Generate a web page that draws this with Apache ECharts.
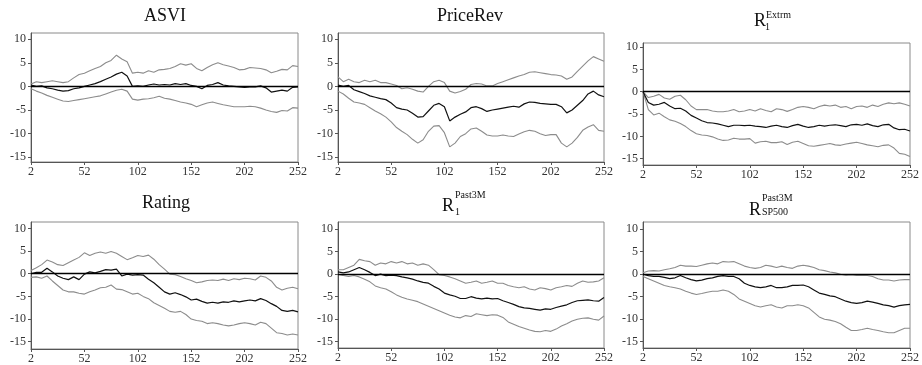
<!DOCTYPE html>
<html><head><meta charset="utf-8">
<script src="https://cdn.jsdelivr.net/npm/echarts@6/dist/echarts.min.js"></script>
<style>html,body{margin:0;padding:0;background:#fff}#c{width:922px;height:365px}</style>
</head><body><div id="c"></div>
<script>
const days = [2,7,12,17,22,27,32,37,42,47,52,57,62,67,72,77,82,87,92,97,102,107,112,117,122,127,132,137,142,147,152,157,162,167,172,177,182,187,192,197,202,207,212,217,222,227,232,237,242,247,252];
const xTicks = [2,52,102,152,202,252];
const yTicks = [-15,-10,-5,0,5,10];

const asviUpper = [0.5,1.0,0.8,1.0,1.2,1.0,0.8,1.0,1.8,2.5,2.8,3.3,3.8,4.2,5.0,5.5,6.6,5.8,5.2,2.8,3.0,2.8,3.3,3.0,3.5,3.6,3.8,4.2,4.8,4.5,4.8,3.8,3.3,4.0,4.6,5.0,4.6,4.3,4.0,3.5,3.6,4.0,3.9,3.8,3.5,2.9,3.2,3.6,3.5,4.4,4.2];
const asviMid = [0.3,0.0,0.1,-0.3,-0.5,-0.8,-1.0,-0.9,-0.5,-0.3,0.0,0.3,0.6,1.0,1.5,2.0,2.6,3.0,2.2,0.0,0.1,0.0,0.3,0.5,0.3,0.4,0.3,0.6,0.4,0.6,0.2,0.0,-0.5,0.2,0.4,0.8,0.3,0.1,0.0,-0.1,-0.2,-0.1,-0.1,0.1,-0.3,-1.2,-1.0,-0.8,-1.0,-0.2,-0.1];
const asviLower = [-0.5,-1.0,-1.4,-1.9,-2.3,-2.7,-3.1,-3.2,-3.0,-2.8,-2.6,-2.4,-2.2,-2.0,-1.6,-1.2,-0.8,-0.6,-1.0,-2.7,-2.9,-2.7,-2.6,-2.4,-2.1,-2.5,-2.7,-3.0,-3.3,-3.5,-3.8,-4.3,-3.9,-3.5,-3.3,-3.6,-3.9,-4.1,-4.3,-4.3,-4.3,-4.2,-4.3,-4.6,-5.0,-5.3,-5.5,-5.1,-5.2,-4.5,-4.6];

const priceRevUpper = [2.0,1.0,1.5,1.0,0.8,1.3,1.0,1.3,0.8,0.8,0.5,0.2,-0.5,-0.3,-0.6,-1.0,-1.2,0.0,1.0,1.3,0.8,-1.0,-1.4,-1.1,-0.6,0.4,0.6,0.5,0.1,0.1,0.6,1.0,1.4,1.8,2.2,2.5,3.0,3.1,2.9,2.7,2.5,2.4,2.2,1.5,2.0,3.2,4.3,5.4,6.3,5.8,5.3];
const priceRevMid = [0.3,0.0,0.2,-0.7,-1.1,-1.5,-2.0,-2.3,-2.6,-2.8,-3.5,-4.5,-4.8,-5.0,-5.7,-6.5,-6.4,-5.2,-4.0,-3.6,-4.3,-7.3,-6.5,-5.9,-5.4,-4.5,-4.3,-4.7,-5.3,-5.0,-4.8,-4.6,-4.4,-4.2,-4.4,-3.7,-3.3,-3.4,-3.6,-3.7,-3.8,-3.8,-4.3,-5.6,-5.0,-4.0,-3.0,-1.6,-1.0,-1.8,-2.2];
const priceRevLower = [-1.0,-1.6,-2.5,-3.3,-3.5,-3.8,-4.5,-5.2,-5.8,-6.5,-7.5,-8.7,-9.5,-10.2,-11.2,-12.0,-11.3,-9.5,-8.4,-8.3,-9.8,-12.8,-12.0,-10.6,-10.0,-9.0,-8.8,-9.5,-10.3,-10.5,-10.5,-10.3,-10.5,-10.6,-10.1,-9.6,-9.3,-9.5,-10.0,-10.4,-10.2,-10.2,-12.0,-12.8,-12.0,-10.8,-9.3,-8.6,-8.1,-9.3,-9.5];

const extrmUpper = [0.0,-1.3,-1.0,-0.6,-1.4,-1.7,-1.0,-0.8,-1.8,-3.2,-4.0,-4.0,-4.0,-4.3,-4.5,-4.5,-4.3,-4.0,-4.5,-4.3,-4.0,-4.3,-3.8,-4.2,-4.5,-3.8,-4.0,-4.4,-4.0,-3.5,-3.3,-3.5,-3.8,-3.3,-3.0,-3.2,-3.0,-3.5,-3.3,-3.8,-3.3,-3.2,-3.5,-3.0,-3.3,-2.8,-2.5,-2.7,-2.5,-2.8,-3.2];
const extrmMid = [0.0,-2.4,-3.0,-2.8,-2.4,-3.2,-3.8,-3.7,-4.3,-5.3,-5.9,-6.5,-6.9,-7.0,-7.2,-7.5,-7.8,-7.5,-7.5,-7.6,-7.5,-7.7,-7.8,-8.0,-7.7,-7.5,-7.8,-8.0,-7.6,-7.3,-7.7,-8.0,-7.8,-7.5,-7.7,-7.5,-7.4,-7.6,-7.8,-7.4,-7.3,-7.5,-7.2,-7.6,-7.8,-7.4,-7.3,-8.1,-8.5,-8.4,-8.8];
const extrmLower = [0.0,-4.0,-5.2,-4.8,-5.6,-6.3,-6.6,-7.1,-7.8,-8.7,-9.4,-9.7,-9.8,-10.1,-10.6,-10.9,-10.8,-10.4,-10.6,-10.6,-10.5,-11.5,-11.2,-11.1,-11.4,-11.4,-11.2,-11.8,-11.3,-11.1,-11.6,-12.1,-12.2,-12.0,-11.8,-11.6,-11.9,-12.0,-11.7,-11.5,-11.3,-11.6,-11.9,-12.1,-12.3,-12.0,-11.9,-12.6,-13.8,-14.0,-14.5];

const ratingUpper = [0.7,1.3,2.0,3.0,2.6,2.0,1.8,2.4,3.0,3.6,4.6,4.0,4.5,4.8,4.5,4.9,4.5,3.8,3.1,3.5,4.0,3.8,4.1,3.2,2.0,1.0,-0.1,-0.2,-0.6,-1.1,-1.5,-2.0,-1.8,-1.5,-1.4,-1.5,-1.2,-1.5,-1.1,-1.3,-1.0,-1.1,-1.4,-0.5,-0.8,-1.6,-3.0,-3.6,-3.2,-3.0,-3.3];
const ratingMid = [0.0,0.3,0.3,1.2,0.4,-0.5,-1.0,-1.3,-0.7,-1.3,-0.1,0.4,0.2,0.5,0.9,0.8,1.0,-0.5,-0.1,-0.3,-0.2,-0.3,-1.2,-2.0,-3.0,-4.0,-4.5,-4.2,-4.6,-5.1,-5.8,-5.6,-6.1,-6.5,-6.3,-6.5,-6.2,-6.3,-6.0,-6.2,-6.0,-5.8,-6.0,-5.5,-5.9,-6.6,-7.2,-8.1,-8.3,-8.1,-8.4];
const ratingLower = [-0.8,-0.7,-1.0,-0.5,-1.6,-2.6,-3.6,-4.0,-4.0,-4.3,-4.5,-4.0,-3.6,-3.1,-3.0,-2.5,-3.4,-3.5,-4.0,-4.5,-4.3,-5.0,-5.5,-6.4,-7.0,-7.6,-8.3,-8.5,-8.3,-9.0,-10.0,-10.3,-10.5,-11.0,-10.8,-11.0,-11.3,-11.5,-11.3,-11.0,-10.8,-11.0,-11.3,-10.7,-11.0,-12.0,-13.0,-13.2,-13.5,-13.3,-13.5];

const past3mUpper = [1.0,1.0,1.5,2.0,3.3,3.0,2.8,2.0,2.5,2.3,2.8,2.5,2.8,2.3,2.5,2.0,2.3,2.0,1.0,-0.1,-0.3,-0.6,-1.0,-1.5,-2.0,-1.8,-1.5,-2.0,-1.8,-1.5,-2.0,-2.0,-2.5,-2.8,-3.0,-2.8,-3.3,-3.5,-3.0,-3.2,-3.5,-3.0,-2.8,-2.5,-2.7,-2.0,-1.5,-1.8,-1.7,-1.5,-0.8];
const past3mMid = [0.5,0.3,0.5,1.0,1.5,1.0,0.4,-0.3,0.0,-0.3,-0.2,-0.3,-0.6,-0.8,-1.1,-1.5,-1.8,-2.0,-2.7,-3.3,-4.2,-4.6,-4.9,-5.4,-5.4,-5.0,-5.3,-5.5,-5.3,-5.5,-5.4,-5.9,-6.3,-6.7,-7.2,-7.5,-7.6,-7.8,-8.0,-7.7,-7.8,-7.4,-7.1,-6.8,-6.3,-5.9,-5.8,-5.7,-5.9,-6.0,-5.2];
const past3mLower = [0.0,-0.3,-0.5,-0.3,-0.6,-1.1,-1.7,-2.6,-3.0,-3.3,-3.9,-4.6,-5.1,-5.5,-5.8,-6.1,-6.6,-7.1,-7.6,-8.1,-8.6,-9.1,-9.5,-9.7,-9.2,-9.4,-8.8,-9.0,-9.2,-9.0,-9.1,-9.6,-10.6,-11.1,-11.6,-12.0,-12.4,-12.7,-12.8,-12.5,-12.7,-12.2,-11.5,-11.0,-10.4,-10.0,-9.8,-9.7,-10.0,-10.2,-9.3];

const sp500Upper = [0.3,0.7,0.8,0.7,1.0,1.2,1.5,2.0,1.8,1.8,1.7,2.0,2.3,2.5,2.3,2.8,2.7,2.8,2.3,1.8,1.5,1.3,1.5,2.0,1.8,1.5,1.8,1.5,1.3,1.8,2.0,1.8,1.5,1.0,0.8,0.5,0.3,0.0,-0.2,-0.1,-0.3,-0.2,-0.3,-0.5,-1.0,-1.3,-1.3,-1.5,-1.3,-1.2,-1.2];
const sp500Mid = [0.0,-0.3,-0.5,-0.5,-0.7,-1.0,-0.8,-0.3,-0.8,-1.2,-1.5,-1.3,-1.0,-0.8,-0.5,-0.3,-0.5,-0.5,-1.0,-2.0,-2.5,-2.8,-3.0,-2.8,-2.5,-3.0,-3.0,-2.8,-2.5,-2.5,-2.4,-2.8,-3.5,-4.2,-4.5,-4.8,-5.0,-5.5,-6.0,-6.3,-6.5,-6.3,-6.0,-6.2,-6.5,-6.8,-7.0,-7.3,-7.0,-6.8,-6.7];
const sp500Lower = [-0.5,-1.0,-1.5,-2.0,-2.5,-2.8,-3.0,-3.3,-3.8,-4.2,-4.5,-4.3,-4.0,-3.8,-3.8,-3.5,-3.8,-4.5,-5.5,-6.0,-6.5,-7.0,-7.3,-7.0,-6.8,-7.3,-7.5,-7.0,-7.0,-6.8,-7.0,-7.5,-8.5,-9.5,-10.0,-10.2,-10.5,-11.0,-11.8,-12.5,-12.5,-12.3,-12.0,-12.3,-12.5,-12.8,-13.0,-13.0,-12.5,-12.0,-12.0];

const panels = [
  {up: asviUpper, mid: asviMid, lo: asviLower, left: 31, top: 33, w: 267, h: 129, min: -16, max: 11.3},
  {up: priceRevUpper, mid: priceRevMid, lo: priceRevLower, left: 338, top: 33, w: 266, h: 129, min: -16, max: 11.3},
  {up: extrmUpper, mid: extrmMid, lo: extrmLower, left: 643, top: 43, w: 267, h: 122, min: -16.4, max: 10.9},
  {up: ratingUpper, mid: ratingMid, lo: ratingLower, left: 31, top: 222, w: 267, h: 128, min: -16.6, max: 11.4},
  {up: past3mUpper, mid: past3mMid, lo: past3mLower, left: 338, top: 222, w: 266, h: 126, min: -16.4, max: 11.6},
  {up: sp500Upper, mid: sp500Mid, lo: sp500Lower, left: 643, top: 222, w: 267, h: 126, min: -16.4, max: 11.6}
];

const FONT = '"Liberation Serif", "DejaVu Serif", serif';
const grids = [], xAxes = [], yAxes = [], series = [];
const pairs = arr => arr.map((v, i) => [days[i], v]);
panels.forEach((p, i) => {
  grids.push({left: p.left, top: p.top, width: p.w, height: p.h, show: true, borderColor: '#8a8a8a', borderWidth: 1, containLabel: false});
  xAxes.push({gridIndex: i, type: 'value', min: 2, max: 252,
    axisLine: {show: true, onZero: false, lineStyle: {color: '#555', width: 1}},
    axisTick: {show: true, customValues: xTicks, length: 3, lineStyle: {color: '#555'}},
    axisLabel: {customValues: xTicks, fontFamily: FONT, fontSize: 12, color: '#333', margin: 4},
    splitLine: {show: false}});
  yAxes.push({gridIndex: i, type: 'value', min: p.min, max: p.max,
    axisLine: {show: true, onZero: false, lineStyle: {color: '#555', width: 1}},
    axisTick: {show: true, customValues: yTicks, length: 3, lineStyle: {color: '#555'}},
    axisLabel: {customValues: yTicks, fontFamily: FONT, fontSize: 12, color: '#333', margin: 5},
    splitLine: {show: false}});
  const base = {type: 'line', xAxisIndex: i, yAxisIndex: i, showSymbol: false, symbol: 'none', silent: true, animation: false};
  series.push(Object.assign({}, base, {data: pairs(p.up), lineStyle: {color: '#8c8c8c', width: 1.1}}));
  series.push(Object.assign({}, base, {data: pairs(p.lo), lineStyle: {color: '#8c8c8c', width: 1.1}}));
  series.push(Object.assign({}, base, {data: pairs(p.mid), lineStyle: {color: '#111', width: 1.2}, z: 3,
    markLine: {silent: true, symbol: 'none', label: {show: false}, lineStyle: {color: '#000', width: 1.3, type: 'solid'}, data: [{yAxis: 0}]}}));
});

const T = (text, x, y, size, align) => ({type: 'text', x: x, y: y, silent: true,
  style: {text: text, fontFamily: FONT, fontSize: size, fill: '#111', textAlign: align || 'left', textVerticalAlign: 'middle'}});

const graphic = [
  T('ASVI', 165, 16, 18, 'center'),
  T('PriceRev', 470, 16, 18, 'center'),
  T('R', 754, 21, 18), T('Extrm', 766, 15, 10), T('1', 765, 27, 10),
  T('Rating', 166, 203, 18, 'center'),
  T('R', 442, 206, 18), T('Past3M', 455, 195, 10), T('1', 455, 212, 10),
  T('R', 749, 210, 18), T('Past3M', 762, 198, 10), T('SP500', 762, 212, 10)
];

const chart = echarts.init(document.getElementById('c'), null, {renderer: 'canvas'});
chart.setOption({animation: false, backgroundColor: '#fff', grid: grids, xAxis: xAxes, yAxis: yAxes, series: series, graphic: graphic});
</script></body></html>
